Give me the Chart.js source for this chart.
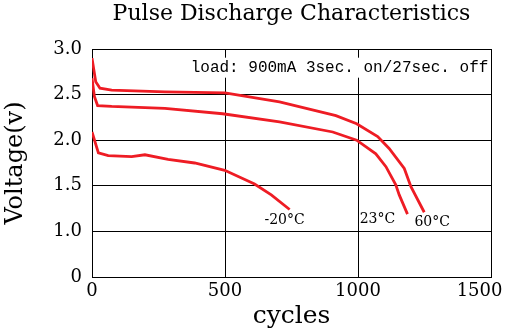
<!DOCTYPE html>
<html>
<head>
<meta charset="utf-8">
<script src="https://cdn.jsdelivr.net/npm/chart.js@4"></script>
<style>
  html, body { margin: 0; padding: 0; background: #fff; }
  #wrap { width: 506px; height: 329px; }
</style>
</head>
<body>
<div id="wrap"><canvas id="chart" width="506" height="329"></canvas></div>
<script>
// cycles / voltage per temperature
const cycles60 = [0, 14, 30, 74, 274, 500, 705, 917, 995, 1074, 1117, 1174, 1199, 1249];
const volts60 = [2.90, 2.64, 2.57, 2.55, 2.53, 2.52, 2.42, 2.27, 2.18, 2.04, 1.91, 1.69, 1.49, 1.21];

const cycles23 = [0, 9, 21, 74, 274, 491, 705, 905, 995, 1067, 1105, 1142, 1155, 1186];
const volts23 = [2.68, 2.48, 2.38, 2.37, 2.35, 2.29, 2.20, 2.09, 2.00, 1.85, 1.71, 1.51, 1.40, 1.19];

const cyclesM20 = [0, 24, 61, 149, 199, 286, 386, 499, 611, 674, 743];
const voltsM20 = [2.09, 1.86, 1.83, 1.82, 1.84, 1.79, 1.75, 1.67, 1.52, 1.40, 1.24];

// curve labels and where they sit (cycles, volts)
const curveLabels = ['-20°C', '23°C', '60°C'];
const labelCycles = [724, 1073, 1279];
const labelVolts = [1.12, 1.13, 1.10];

const noteText = 'load: 900mA 3sec. on/27sec. off';

const RED = '#ee1c24';

function toPoints(xs, ys) {
    return xs.map(function(x, i) { return {x: x, y: ys[i]}; });
}

// y axis is broken: the bottom tick (0.5) is shown as "0"
function yTickLabel(value) {
    if (value === 0.5) return '0';
    return value.toFixed(1);
}

const notesPlugin = {
    id: 'notes',
    afterDraw(chart) {
        const ctx = chart.ctx;
        const xs = chart.scales.x;
        const ys = chart.scales.y;
        ctx.save();

        // load note, white box behind it
        ctx.font = '16px "Liberation Mono", monospace';
        ctx.textAlign = 'right';
        ctx.textBaseline = 'middle';
        const nx = xs.getPixelForValue(1490);
        const ny = ys.getPixelForValue(2.795);
        const w = ctx.measureText(noteText).width;
        ctx.fillStyle = '#fff';
        ctx.fillRect(nx - w - 3, ny - 10, w + 4, 20);
        ctx.fillStyle = '#000';
        ctx.fillText(noteText, nx, ny);

        // temperature labels
        ctx.font = '14px "DejaVu Serif", serif';
        ctx.textAlign = 'center';
        for (let i = 0; i < curveLabels.length; i++) {
            ctx.fillText(curveLabels[i], xs.getPixelForValue(labelCycles[i]), ys.getPixelForValue(labelVolts[i]));
        }
        ctx.restore();
    }
};

const ctx = document.getElementById('chart').getContext('2d');
const myChart = new Chart(ctx, {
    type: 'line',
    data: {
        datasets: [
            { label: '60°C', data: toPoints(cycles60, volts60) },
            { label: '23°C', data: toPoints(cycles23, volts23) },
            { label: '-20°C', data: toPoints(cyclesM20, voltsM20) }
        ]
    },
    options: {
        responsive: false,
        animation: false,
        devicePixelRatio: 1,
        layout: { padding: { left: 0, right: 15, top: 0, bottom: 0 } },
        elements: {
            line: { borderColor: RED, borderWidth: 2.8, tension: 0 },
            point: { radius: 0 }
        },
        plugins: {
            legend: { display: false },
            tooltip: { enabled: false },
            title: {
                display: true,
                fullSize: false,
                text: 'Pulse Discharge Characteristics',
                color: '#000',
                font: { family: 'DejaVu Serif', size: 22, weight: 'normal' },
                padding: { top: 1, bottom: 21.6 }
            }
        },
        scales: {
            x: {
                type: 'linear',
                min: 0,
                max: 1500,
                ticks: {
                    stepSize: 500,
                    color: '#000',
                    padding: 4,
                    maxRotation: 0,
                    font: { family: 'DejaVu Serif', size: 18 },
                    // pad last label so it stays inside the canvas
                    callback: function(v) { return v === 1500 ? '1500    ' : String(v); }
                },
                grid: { color: '#000', lineWidth: 1, drawTicks: false },
                border: { color: '#000', width: 1 },
                title: {
                    display: true,
                    text: 'cycles',
                    color: '#000',
                    font: { family: 'DejaVu Serif', size: 25 },
                    padding: { top: 0, bottom: -2 }
                },
                afterFit: function(scale) {
                    scale.height = 52;
                    scale.paddingLeft = 0;
                    scale.paddingRight = 0;
                }
            },
            y: {
                type: 'linear',
                min: 0.5,
                max: 3.0,
                ticks: {
                    stepSize: 0.5,
                    color: '#000',
                    padding: 10,
                    font: { family: 'DejaVu Serif', size: 18 },
                    callback: yTickLabel
                },
                grid: { color: '#000', lineWidth: 1, drawTicks: false },
                border: { color: '#000', width: 1 },
                title: {
                    display: true,
                    text: 'Voltage(v)',
                    color: '#000',
                    font: { family: 'DejaVu Serif', size: 24 },
                    padding: { top: 1, bottom: 0 }
                },
                afterFit: function(scale) {
                    scale.width = 92;
                    scale.paddingTop = 0;
                    scale.paddingBottom = 0;
                }
            }
        }
    },
    plugins: [notesPlugin]
});
</script>
</body>
</html>
